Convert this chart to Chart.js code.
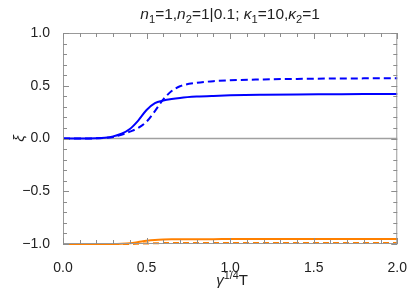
<!DOCTYPE html>
<html>
<head>
<meta charset="utf-8">
<script src="https://cdn.jsdelivr.net/npm/chart.js@4.4.1/dist/chart.umd.min.js"></script>
<style>
  html, body { margin: 0; padding: 0; background: #fff; }
  #wrap { width: 415px; height: 295px; }
</style>
</head>
<body>
<div id="wrap"><canvas id="myChart" width="415" height="295"></canvas></div>
<script>
// x values (gamma^(1/4) T)
const xs = [0, 0.1, 0.2, 0.25, 0.3, 0.35, 0.4, 0.45, 0.5, 0.55, 0.6, 0.65, 0.7, 0.8, 0.9, 1.0, 1.2, 1.4, 1.6, 1.8, 2.0];
// series
const blueSolid  = [0, 0, 0.003, 0.008, 0.02, 0.045, 0.09, 0.17, 0.27, 0.335, 0.36, 0.375, 0.385, 0.397, 0.404, 0.409, 0.414, 0.417, 0.419, 0.421, 0.422];
const blueDashed = [0, 0, 0.002, 0.006, 0.015, 0.035, 0.065, 0.10, 0.16, 0.26, 0.37, 0.45, 0.495, 0.528, 0.543, 0.552, 0.56, 0.565, 0.568, 0.57, 0.572];
const orangeSolid  = [-1, -1, -1, -1, -1, -0.998, -0.993, -0.982, -0.97, -0.962, -0.958, -0.956, -0.955, -0.954, -0.954, -0.953, -0.953, -0.953, -0.953, -0.953, -0.953];
const orangeDashed = [-1, -1, -1, -1, -1, -1, -1, -0.998, -0.995, -0.993, -0.991, -0.99, -0.99, -0.99, -0.99, -0.99, -0.99, -0.99, -0.99, -0.99, -0.99];

const xTickLabels = ['0.0', '0.5', '1.0', '1.5', '2.0'];
const yTickLabels = ['\u22121.0', '\u22120.5', '0.0', '0.5', '1.0'];

const FONT = '"Liberation Sans", Arial, sans-serif';

function pts(ys) { return xs.map((x, i) => ({ x: x, y: ys[i] })); }

function line(ys, color, dash) {
    return {
        data: pts(ys),
        borderColor: color,
        borderWidth: 2,
        borderDash: dash,
        pointRadius: 0,
        fill: false,
        clip: 4,
        cubicInterpolationMode: 'monotone'
    };
}

// draws rich text pieces: [text, italic, 'sub'|'sup'|null]
function drawRich(ctx, parts, cx, cy, size) {
    const measure = p => {
        const s = p[2] ? size * 0.72 : size;
        ctx.font = (p[1] ? 'italic ' : '') + s + 'px ' + FONT;
        return ctx.measureText(p[0]).width;
    };
    let total = 0;
    parts.forEach(p => total += measure(p));
    let x = cx - total / 2;
    parts.forEach(p => {
        const w = measure(p);
        let y = cy;
        if (p[2] === 'sub') y += size * 0.25;
        if (p[2] === 'sup') y -= size * 0.4;
        ctx.fillText(p[0], x, y);
        x += w;
    });
}

const framePlugin = {
    id: 'frame',
    beforeDatasetsDraw(chart) {
        const ctx = chart.ctx, a = chart.chartArea;
        const sy = chart.scales.y;
        ctx.save();
        // zero axis line
        ctx.strokeStyle = '#a0a0a0';
        ctx.lineWidth = 1.5;
        ctx.beginPath();
        ctx.moveTo(a.left, sy.getPixelForValue(0));
        ctx.lineTo(a.right, sy.getPixelForValue(0));
        ctx.stroke();
        ctx.restore();
    },
    afterDraw(chart) {
        const ctx = chart.ctx, a = chart.chartArea;
        const sx = chart.scales.x, sy = chart.scales.y;
        ctx.save();
        // frame
        ctx.strokeStyle = '#999999';
        ctx.lineWidth = 1;
        ctx.strokeRect(a.left + 0.5, a.top + 0.5, a.right - a.left - 1, a.bottom - a.top - 1);
        // inward ticks, major every 0.5, minor every 0.1
        ctx.strokeStyle = '#8c8c8c';
        ctx.beginPath();
        for (let i = 0; i <= 20; i++) {
            const len = (i % 5 === 0) ? 6 : 4;
            const px = Math.round(sx.getPixelForValue(i / 10)) + 0.5;
            ctx.moveTo(px, a.bottom); ctx.lineTo(px, a.bottom - len);
            ctx.moveTo(px, a.top); ctx.lineTo(px, a.top + len);
        }
        for (let i = -10; i <= 10; i++) {
            const len = (Math.abs(i) % 5 === 0) ? 6 : 4;
            const py = Math.round(sy.getPixelForValue(i / 10)) + 0.5;
            ctx.moveTo(a.left, py); ctx.lineTo(a.left + len, py);
            ctx.moveTo(a.right, py); ctx.lineTo(a.right - len, py);
        }
        ctx.stroke();

        const cx = (a.left + a.right) / 2;
        ctx.fillStyle = '#222';
        ctx.textBaseline = 'alphabetic';
        ctx.textAlign = 'left';
        // title
        drawRich(ctx, [
            ['n', true], ['1', false, 'sub'], ['=1,', false],
            ['n', true], ['2', false, 'sub'], ['=1|0.1; ', false],
            ['\u03ba', true], ['1', false, 'sub'], ['=10,', false],
            ['\u03ba', true], ['2', false, 'sub'], ['=1', false]
        ], cx, 19, 15.5);
        // x axis title
        drawRich(ctx, [['\u03b3', true], ['1/4', false, 'sup'], ['T', false]], cx + 2, 285, 15);
        // y axis title
        ctx.translate(19, (a.top + a.bottom) / 2);
        ctx.rotate(-Math.PI / 2);
        ctx.textAlign = 'center';
        ctx.font = 'italic 15px ' + FONT;
        ctx.fillText('\u03be', 0, 5);
        ctx.restore();
    }
};

const ctx = document.getElementById('myChart').getContext('2d');

const config = {
    type: 'line',
    data: {
        datasets: [
            line(orangeDashed, '#ff8000', [6, 4]),
            line(orangeSolid, '#ff8000', []),
            line(blueDashed, '#0000ff', [7, 4]),
            line(blueSolid, '#0000ff', [])
        ]
    },
    options: {
        responsive: false,
        animation: false,
        layout: { padding: { top: 33, right: 11, left: 0, bottom: 0 } },
        plugins: { legend: { display: false }, tooltip: { enabled: false } },
        scales: {
            x: {
                type: 'linear',
                min: 0, max: 2,
                grid: { display: false },
                border: { display: false },
                afterFit: s => { s.height = 51; },
                afterBuildTicks: s => { s.ticks = xTickLabels.map((t, i) => ({ value: i * 0.5 })); },
                ticks: {
                    padding: 8,
                    color: '#222',
                    font: { family: FONT, size: 14 },
                    maxRotation: 0,
                    callback: (v, i) => xTickLabels[i]
                }
            },
            y: {
                type: 'linear',
                min: -1, max: 1,
                grid: { display: false },
                border: { display: false },
                afterFit: s => { s.width = 63; },
                afterBuildTicks: s => { s.ticks = yTickLabels.map((t, i) => ({ value: -1 + i * 0.5 })); },
                ticks: {
                    padding: 5,
                    color: '#222',
                    font: { family: FONT, size: 14 },
                    callback: (v, i) => yTickLabels[i]
                }
            }
        }
    },
    plugins: [framePlugin]
};

const myChart = new Chart(ctx, config);
</script>
</body>
</html>
